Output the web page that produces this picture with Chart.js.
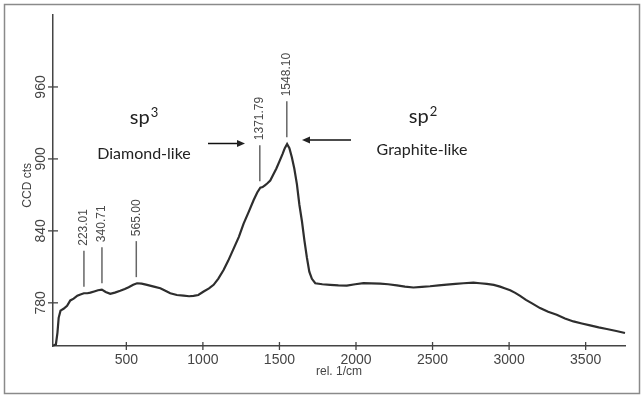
<!DOCTYPE html>
<html>
<head>
<meta charset="utf-8">
<script src="https://cdn.jsdelivr.net/npm/chart.js@4.4.1/dist/chart.umd.min.js"></script>
<style>
  html, body { margin: 0; padding: 0; background: #fff; }
  canvas { display: block; }
</style>
</head>
<body>
<canvas id="ramanChart" width="644" height="398"></canvas>
<script>
// spectrum (rel. 1/cm vs CCD cts)
const wavenumbers = [23, 40, 50, 58, 70, 90, 113, 134, 156, 180, 200, 223, 245, 265, 290, 315, 340, 365, 395, 425,
    460, 490, 515, 545, 570, 600, 635, 680, 722, 755, 787, 830, 874, 910, 939, 970, 1005, 1040, 1070, 1100,
    1135, 1165, 1200, 1235, 1266, 1300, 1331, 1355, 1375, 1390, 1405, 1420, 1440, 1460, 1480, 1500, 1520, 1535, 1550, 1565,
    1581, 1597, 1614, 1630, 1647, 1663, 1679, 1695, 1712, 1734, 1780, 1831, 1885, 1940, 1995, 2049, 2100, 2158, 2210, 2267,
    2320, 2375, 2430, 2484, 2540, 2593, 2650, 2702, 2767, 2810, 2854, 2900, 2941, 2975, 3007, 3040, 3072, 3110, 3150, 3202,
    3255, 3311, 3365, 3420, 3475, 3529, 3585, 3638, 3700, 3757];
const counts = [744.3, 745.5, 755, 767.5, 773.5, 775, 777.5, 782, 783.5, 786, 787, 788, 788, 788.5, 789.5, 790.5, 791, 789, 787.5, 788.5,
    790, 791.5, 793, 795, 796.3, 796, 795, 793.5, 792.2, 790, 788, 786.5, 786, 785.5, 785.8, 786.5, 789.4, 792, 795, 800,
    807.4, 815, 825, 835, 846, 856, 865.5, 872, 876, 876.5, 878, 879.5, 882, 887, 892, 898, 904, 909, 912.5, 909,
    901.4, 892, 879, 862, 848, 832, 818, 806, 800, 796.3, 795.5, 795, 794.5, 794.3, 795.5, 796.5, 796.3, 796, 795.5, 794.5,
    793.5, 792.8, 793.3, 793.8, 794.5, 795.2, 795.8, 796.3, 796.8, 796.3, 795.8, 795, 793.5, 792, 790.5, 788.3, 785.8, 782.5, 779.5, 775.6,
    772.5, 770, 767, 764.5, 762.8, 761.2, 759.5, 758.2, 756.5, 754.8];

const xTicks = [500, 1000, 1500, 2000, 2500, 3000, 3500];
const yTicks = [780, 840, 900, 960];

// labelled peaks
const peakPositions = [223.01, 340.71, 565.00, 1371.79, 1548.10];
const peakLabels = ['223.01', '340.71', '565.00', '1371.79', '1548.10'];
const peakHeights = [788, 791, 796, 876, 912.6];

const noteBig = ['sp', 'sp'];
const noteSup = ['3', '2'];
const noteSmall = ['Diamond-like', 'Graphite-like'];

function arrow(ctx, x1, x2, y) {
    const dir = Math.sign(x2 - x1);
    ctx.beginPath();
    ctx.moveTo(x1, y);
    ctx.lineTo(x2 - dir * 6, y);
    ctx.stroke();
    ctx.beginPath();
    ctx.moveTo(x2, y);
    ctx.lineTo(x2 - dir * 8, y - 3.5);
    ctx.lineTo(x2 - dir * 8, y + 3.5);
    ctx.closePath();
    ctx.fill();
}

function spText(ctx, base, sup, cx, y) {
    ctx.font = '20px Lato, "Open Sans", sans-serif';
    const w1 = ctx.measureText(base).width;
    ctx.font = '13px Lato, "Open Sans", sans-serif';
    const w2 = ctx.measureText(sup).width;
    const x0 = cx - (w1 + w2 + 1) / 2;
    ctx.textAlign = 'left';
    ctx.font = '20px Lato, "Open Sans", sans-serif';
    ctx.fillText(base, x0, y);
    ctx.font = '13px Lato, "Open Sans", sans-serif';
    ctx.fillText(sup, x0 + w1 + 1, y - 7);
}

const framePlugin = {
    id: 'frame',
    beforeDraw(chart) {
        const ctx = chart.ctx;
        ctx.save();
        ctx.fillStyle = '#fff';
        ctx.fillRect(0, 0, chart.width, chart.height);
        ctx.strokeStyle = '#8a8a8a';
        ctx.lineWidth = 1.5;
        ctx.strokeRect(4.5, 4.5, chart.width - 9, chart.height - 9);
        ctx.restore();
    }
};

const axisPlugin = {
    id: 'axisDecor',
    afterDraw(chart) {
        const ctx = chart.ctx;
        const xs = chart.scales.x;
        const ys = chart.scales.y;
        const area = chart.chartArea;
        ctx.save();

        // tick marks crossing the axes
        ctx.strokeStyle = '#444';
        ctx.lineWidth = 1.3;
        xTicks.forEach(v => {
            const px = xs.getPixelForValue(v);
            ctx.beginPath();
            ctx.moveTo(px, area.bottom - 4);
            ctx.lineTo(px, area.bottom + 4);
            ctx.stroke();
        });
        yTicks.forEach(v => {
            const py = ys.getPixelForValue(v);
            ctx.beginPath();
            ctx.moveTo(area.left - 5, py);
            ctx.lineTo(area.left + 5, py);
            ctx.stroke();
        });

        // rotated y tick labels + title
        ctx.fillStyle = '#444';
        ctx.textAlign = 'center';
        ctx.textBaseline = 'middle';
        ctx.font = '14px "Liberation Sans", Arial, sans-serif';
        yTicks.forEach(v => {
            const py = ys.getPixelForValue(v);
            ctx.save();
            ctx.translate(area.left - 12, py);
            ctx.rotate(-Math.PI / 2);
            ctx.fillText(String(v), 0, 0);
            ctx.restore();
        });
        ctx.font = '12px "Liberation Sans", Arial, sans-serif';
        ctx.save();
        ctx.translate(area.left - 25, ys.getPixelForValue(878));
        ctx.rotate(-Math.PI / 2);
        ctx.fillText('CCD cts', 0, 0);
        ctx.restore();

        // peak markers
        ctx.strokeStyle = '#666';
        ctx.lineWidth = 1.5;
        ctx.fillStyle = '#4a4a4a';
        ctx.font = '12px "Liberation Sans", Arial, sans-serif';
        ctx.textAlign = 'left';
        peakPositions.forEach((p, i) => {
            const px = xs.getPixelForValue(p);
            const bottom = ys.getPixelForValue(peakHeights[i]) - 6.5;
            const top = bottom - 36;
            ctx.beginPath();
            ctx.moveTo(px, bottom);
            ctx.lineTo(px, top);
            ctx.stroke();
            ctx.save();
            ctx.translate(px, top - 5);
            ctx.rotate(-Math.PI / 2);
            ctx.fillText(peakLabels[i], 0, 0);
            ctx.restore();
        });

        // sp3 / sp2 notes with arrows
        ctx.fillStyle = '#222';
        ctx.strokeStyle = '#111';
        ctx.lineWidth = 1.5;
        ctx.textBaseline = 'alphabetic';
        spText(ctx, noteBig[0], noteSup[0], 144, 124);
        spText(ctx, noteBig[1], noteSup[1], 423, 123);
        ctx.textAlign = 'center';
        ctx.font = '16px Lato, "Open Sans", sans-serif';
        ctx.fillText(noteSmall[0], 144, 159);
        ctx.fillText(noteSmall[1], 422, 155);
        arrow(ctx, 208, 245, 143.5);
        arrow(ctx, 351, 302, 140);

        ctx.restore();
    }
};

new Chart(document.getElementById('ramanChart'), {
    type: 'scatter',
    data: {
        datasets: [{
            data: wavenumbers.map((w, i) => ({ x: w, y: counts[i] })),
            showLine: true,
            borderColor: '#2e2e2e',
            borderWidth: 2.2,
            pointRadius: 0,
            tension: 0,
            clip: 4
        }]
    },
    options: {
        responsive: false,
        animation: false,
        layout: { padding: { top: 15, right: 19, left: 0, bottom: 0 } },
        plugins: { legend: { display: false }, tooltip: { enabled: false } },
        scales: {
            x: {
                type: 'linear',
                min: 21,
                max: 3757,
                afterBuildTicks: s => { s.ticks = xTicks.map(v => ({ value: v })); },
                afterFit: s => { s.height = 52; },
                grid: { display: false, drawTicks: false },
                border: { display: true, color: '#444', width: 1.5 },
                ticks: {
                    color: '#444',
                    padding: 6,
                    maxRotation: 0,
                    font: { family: '"Liberation Sans", Arial, sans-serif', size: 14 },
                    callback: v => String(v)
                },
                title: {
                    display: true,
                    text: 'rel. 1/cm',
                    color: '#444',
                    font: { family: '"Liberation Sans", Arial, sans-serif', size: 12 },
                    padding: { top: 0, bottom: 19 }
                }
            },
            y: {
                min: 744,
                max: 1020,
                afterBuildTicks: s => { s.ticks = yTicks.map(v => ({ value: v })); },
                afterFit: s => { s.width = 53; },
                grid: { display: false, drawTicks: false },
                border: { display: true, color: '#444', width: 1.5 },
                ticks: { display: false }
            }
        }
    },
    plugins: [framePlugin, axisPlugin]
});
</script>
</body>
</html>
